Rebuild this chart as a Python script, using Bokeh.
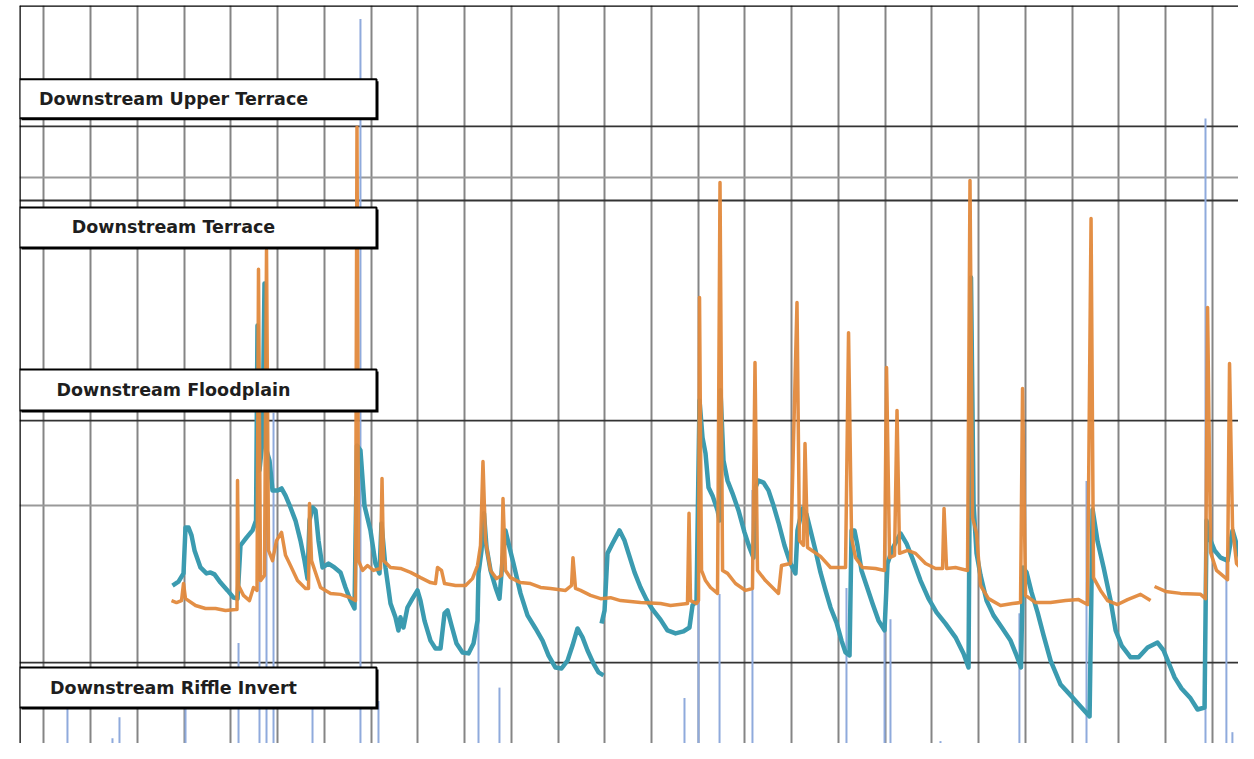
import numpy as np
from bokeh.plotting import figure
from bokeh.models import Range1d, Span, BoxAnnotation, Label, Grid, SingleIntervalTicker
from bokeh.embed import file_html
from bokeh.resources import INLINE

nan = float("nan")

# ---------------- data ----------------
# time axis: days; elevation axis: metres
orange_day = [19.11, 19.86, 20.61, 20.91, 21.21, 22.71, 24.20, 25.70, 27.20, 28.70,
              28.92, 29.00, 29.15, 29.89, 30.79, 31.39, 31.92, 32.14, 32.44, 33.04,
              33.34, 33.64, 34.24, 34.84, 35.59, 36.19, 36.93, 37.98, 39.18, 39.63,
              39.78, 40.08, 41.43, 42.93, 44.43, 45.92, 46.67, 46.89, 47.12, 47.72,
              48.47, 49.36, 50.41, 50.64, 50.86, 51.91, 53.41, 54.91, 56.41, 57.90,
              58.65, 58.95, 59.55, 60.00, 61.65, 63.15, 64.19, 64.94, 65.39, 65.76,
              66.14, 66.89, 67.79, 68.53, 68.76, 69.13, 69.88, 71.38, 72.88, 74.38,
              75.87, 78.12, 79.02, 79.24, 79.62, 80.37, 81.87, 83.37, 84.86, 86.36,
              89.36, 92.35, 93.85, 96.39, 96.62, 96.84, 97.74, 98.04, 98.19, 98.49,
              99.09, 99.84, 100.89, 101.26, 101.64, 102.39, 103.58, 105.08, 106.12, 106.50,
              106.87, 108.07, 110.02, 110.47, 111.81, 112.79, 113.16, 113.76, 113.99, 114.37,
              116.31, 117.81, 120.06, 120.51, 120.96, 121.55, 122.60, 124.55, 125.90, 126.20,
              126.65, 127.40, 127.77, 128.15, 129.35, 130.54, 132.04, 133.54, 134.59, 134.81,
              135.19, 136.53, 138.33, 138.70, 139.08, 139.68, 140.28, 141.47, 143.27, 145.07,
              146.27, 146.57, 147.02, 148.52, 150.77, 153.01, 154.96, 156.30, 156.83, 157.20,
              158.25, 159.30, 160.80, 162.30, 164.24, 165.74, nan, 166.34, 167.99, 170.24,
              173.23, 173.98, 174.28, 174.73, 175.62, 177.27, 177.57, 178.02, 178.62, 179.52,
              181.31]
orange_elev = [99.710, 99.704, 99.710, 99.762, 99.716, 99.695, 99.686, 99.686, 99.680, 99.683,
               99.683, 100.076, 99.756, 99.726, 99.710, 99.750, 99.741, 100.720, 99.771, 99.787,
               100.778, 99.863, 99.832, 99.893, 99.918, 99.848, 99.817, 99.771, 99.747, 99.747,
               100.006, 99.832, 99.750, 99.732, 99.729, 99.719, 99.710, 101.153, 99.832, 99.802,
               99.817, 99.802, 99.808, 100.082, 99.832, 99.811, 99.808, 99.796, 99.780, 99.765,
               99.762, 99.811, 99.802, 99.762, 99.756, 99.756, 99.777, 99.817, 99.878, 100.134,
               99.893, 99.802, 99.777, 99.787, 100.021, 99.802, 99.780, 99.765, 99.762, 99.750,
               99.747, 99.741, 99.756, 99.841, 99.747, 99.741, 99.726, 99.716, 99.719, 99.710,
               99.704, 99.701, 99.695, 99.701, 99.976, 99.710, 99.701, 99.710, 100.634, 99.802,
               99.771, 99.750, 99.732, 100.985, 99.802, 99.793, 99.762, 99.741, 99.747, 100.436,
               99.802, 99.771, 99.732, 99.817, 99.823, 100.619, 99.893, 99.878, 100.189, 99.872,
               99.845, 99.811, 99.811, 100.527, 99.902, 99.841, 99.811, 99.808, 99.802, 100.421,
               99.841, 99.848, 100.290, 99.854, 99.863, 99.854, 99.823, 99.808, 99.808, 99.991,
               99.808, 99.811, 99.802, 100.991, 99.963, 99.915, 99.756, 99.716, 99.695, 99.701,
               99.704, 100.357, 99.726, 99.704, 99.704, 99.710, 99.713, 99.698, 100.875, 99.780,
               99.741, 99.710, 99.698, 99.713, 99.729, 99.710, nan, 99.753, 99.738, 99.732,
               99.729, 99.716, 100.604, 99.857, 99.802, 99.774, 100.433, 99.933, 99.823, 99.802,
               99.768]

teal_day = [19.26, 20.16, 20.91, 21.21, 21.66, 22.11, 22.56, 23.45, 24.35, 24.95,
            25.55, 26.45, 27.50, 28.40, 29.00, 29.44, 30.34, 31.24, 31.77, 31.99,
            32.29, 32.74, 33.04, 33.34, 33.79, 34.24, 34.99, 35.59, 36.19, 36.93,
            37.68, 38.43, 39.03, 39.48, 39.78, 40.23, 40.68, 41.13, 41.73, 42.62,
            43.52, 44.42, 45.17, 45.92, 46.52, 46.89, 47.41, 48.01, 48.91, 49.66,
            50.26, 50.56, 51.16, 51.91, 52.65, 53.10, 53.40, 53.85, 54.45, 55.20,
            55.95, 56.40, 57.00, 57.90, 58.65, 59.40, 60.00, 60.45, 61.05, 61.80,
            62.70, 63.59, 64.34, 64.94, 65.09, 65.54, 65.91, 66.29, 66.89, 67.64,
            68.23, 68.68, 69.13, 69.73, 70.33, 71.38, 72.43, 73.63, 74.68, 75.57,
            76.62, 77.52, 78.42, 79.17, 79.92, 80.67, 81.42, 82.32, 83.07, 83.82,
            nan, 83.52, 83.97, 84.41, 85.16, 86.21, 86.96, 87.56, 88.46, 89.36,
            90.25, 91.15, 92.35, 93.40, 94.60, 95.79, 96.69, 97.14, 97.74, 98.19,
            98.64, 99.09, 99.54, 100.14, 100.89, 101.19, 101.33, 101.78, 102.38, 103.13,
            104.03, 104.93, 105.67, 106.27, 106.57, 107.02, 107.77, 108.52, 109.27, 110.02,
            110.92, 111.81, 112.56, 112.86, 113.61, 114.21, 114.81, 115.56, 116.31, 117.06,
            117.81, 118.71, 119.46, 120.06, 120.66, 120.96, 121.40, 121.85, 122.45, 123.20,
            124.10, 125.00, 125.90, 126.35, 127.10, 128.30, 129.20, 130.09, 131.29, 132.49,
            133.69, 135.04, 136.53, 137.73, 138.48, 138.85, 139.23, 139.68, 140.28, 141.18,
            142.22, 143.57, 144.77, 145.67, 146.34, 146.64, 147.17, 147.92, 148.82, 149.72,
            150.77, 152.27, 153.77, 155.26, 156.61, 157.06, 157.81, 158.71, 159.76, 160.51,
            161.41, 162.75, 163.95, 165.30, 166.79, 167.69, 168.44, 169.34, 170.38, 171.73,
            172.78, 173.83, 174.13, 174.73, 175.33, 176.23, 177.27, 178.02, 178.77, 179.67,
            180.57, 181.31]
teal_elev = [99.756, 99.768, 99.793, 99.933, 99.933, 99.909, 99.863, 99.811, 99.793, 99.796,
             99.790, 99.765, 99.741, 99.719, 99.716, 99.878, 99.902, 99.924, 99.954, 100.549,
             100.107, 100.198, 100.677, 100.168, 100.137, 100.046, 100.046, 100.052, 100.030, 99.994,
             99.954, 99.893, 99.832, 99.777, 99.954, 99.994, 99.985, 99.893, 99.811, 99.823,
             99.811, 99.796, 99.750, 99.710, 99.686, 100.183, 100.168, 100.000, 99.924, 99.823,
             99.793, 99.945, 99.811, 99.701, 99.659, 99.619, 99.659, 99.628, 99.689, 99.716,
             99.741, 99.710, 99.649, 99.588, 99.564, 99.564, 99.671, 99.680, 99.634, 99.579,
             99.552, 99.549, 99.579, 99.649, 99.793, 99.863, 99.976, 99.872, 99.802, 99.750,
             99.716, 99.832, 99.924, 99.872, 99.823, 99.732, 99.665, 99.625, 99.588, 99.543,
             99.506, 99.503, 99.527, 99.573, 99.625, 99.598, 99.558, 99.518, 99.491, 99.482,
             nan, 99.640, 99.680, 99.854, 99.884, 99.924, 99.893, 99.854, 99.796, 99.750,
             99.713, 99.683, 99.652, 99.619, 99.610, 99.616, 99.628, 99.695, 99.710, 100.320,
             100.207, 100.159, 100.055, 100.030, 99.985, 99.954, 100.351, 100.137, 100.076, 100.037,
             99.985, 99.918, 99.872, 99.841, 100.055, 100.076, 100.070, 100.046, 100.000, 99.948,
             99.878, 99.823, 99.793, 99.924, 99.991, 99.973, 99.924, 99.863, 99.796, 99.741,
             99.689, 99.643, 99.588, 99.552, 99.543, 99.924, 99.924, 99.878, 99.802, 99.756,
             99.701, 99.649, 99.619, 99.823, 99.869, 99.915, 99.884, 99.838, 99.771, 99.716,
             99.674, 99.640, 99.598, 99.549, 99.506, 100.695, 100.006, 99.854, 99.787, 99.710,
             99.665, 99.625, 99.588, 99.543, 99.506, 99.811, 99.796, 99.735, 99.674, 99.604,
             99.527, 99.454, 99.421, 99.387, 99.357, 99.988, 99.890, 99.811, 99.710, 99.619,
             99.573, 99.537, 99.537, 99.567, 99.582, 99.558, 99.521, 99.476, 99.442, 99.412,
             99.378, 99.384, 99.954, 99.893, 99.863, 99.841, 99.832, 99.924, 99.872, 99.787,
             99.710, 99.665]

rain_day = [3.53, 10.27, 11.32, 21.21, 29.15, 32.29, 33.34, 34.39, 40.23, 47.41,
            50.11, 64.19, 65.09, 68.23, 95.94, 98.04, 101.19, 106.12, 120.20, 125.90,
            126.79, 134.28, 146.10, 156.15, 173.97, 177.10, 178.00]
rain_mm = [3.8, 0.9, 2.3, 3.4, 7.3, 18.9, 22.6, 22.8, 3.8, 49.3,
           3.4, 0.3, 9.3, 4.3, 3.6, 11.2, 10.6, 17.6, 11.0, 9.0,
           8.9, 0.7, 9.3, 18.2, 42.6, 12.9, 1.3]

level_names = ["Downstream Upper Terrace", "Downstream Terrace",
               "Downstream Floodplain", "Downstream Riffle Invert"]
level_elev = [101.156, 100.930, 100.259, 99.521]
label_side = ["above", "below", "above", "below"]

# ---------------- layout ----------------
W, H = 1238, 743
LEFT, TOP = 19, 5
X0 = -3.654
Y1 = 101.5245
PX_PER_DAY = 6.677
PX_PER_M = 327.97
frame_w, frame_h = W - LEFT, H - TOP
X1 = X0 + frame_w / PX_PER_DAY
Y0 = Y1 - frame_h / PX_PER_M
sx, sy = PX_PER_DAY, PX_PER_M
PX_PER_MM = 14.86
# rain axis: zero lies just below the visible frame bottom
RAIN0 = 8 / PX_PER_MM
RAIN1 = RAIN0 + frame_h / PX_PER_MM

p = figure(width=W, height=H, output_backend="svg", toolbar_location=None,
           x_range=Range1d(X0, X1), y_range=Range1d(Y0, Y1),
           x_axis_location=None, y_axis_location=None,
           min_border_left=LEFT, min_border_right=0, min_border_top=TOP, min_border_bottom=0)
p.outline_line_color = None
p.background_fill_color = "white"
p.border_fill_color = "white"
p.extra_y_ranges = {"rain": Range1d(RAIN0, RAIN1)}
p.grid.visible = False

p.add_layout(Grid(dimension=0, ticker=SingleIntervalTicker(interval=7, num_minor_ticks=0),
                  grid_line_color="#858585", grid_line_width=2))
p.add_layout(Grid(dimension=1, ticker=SingleIntervalTicker(interval=1, num_minor_ticks=0),
                  grid_line_color="#999999", grid_line_width=2))

for lev in level_elev:
    p.add_layout(Span(location=lev, dimension="width", line_color="#333333",
                      line_width=1.8, level="underlay"))

# rainfall bars (from zero upward)
p.vbar(x=rain_day, top=rain_mm, bottom=0, width=2.0 / sx, y_range_name="rain",
       fill_color="#8FAADC", line_color=None)

p.line(np.array(teal_day, dtype=float), np.array(teal_elev, dtype=float),
       line_color="#3B9BB0", line_width=4.5, line_join="round")
p.line(np.array(orange_day, dtype=float), np.array(orange_elev, dtype=float),
       line_color="#E2893C", line_width=3.5, line_alpha=0.95, line_join="round")

# frame borders (top and left)
p.add_layout(Span(location=X0, dimension="height", line_color="black", line_width=2.5))
p.add_layout(Span(location=Y1, dimension="width", line_color="black", line_width=2.5))

# label boxes
gaps = [8, 7, 10, 5]
heights = [39, 40, 41, 40]
box_right = X0 + 357 / sx
text_x = X0 + 154 / sx
for name, lev, side, gap, hh in zip(level_names, level_elev, label_side, gaps, heights):
    if side == "above":
        bottom = lev + gap / sy
        top = bottom + hh / sy
    else:
        top = lev - gap / sy
        bottom = top - hh / sy
    p.add_layout(BoxAnnotation(left=X0 + 2 / sx, right=box_right + 2 / sx,
                               top=top - 2 / sy, bottom=bottom - 2 / sy,
                               fill_color="black", fill_alpha=1, line_alpha=0))
    p.add_layout(BoxAnnotation(left=X0, right=box_right, top=top, bottom=bottom,
                               fill_color="white", fill_alpha=1,
                               line_color="black", line_alpha=1, line_width=2))
    p.add_layout(Label(x=text_x, y=(top + bottom) / 2, text=name,
                       text_align="center", text_baseline="middle",
                       text_font="DejaVu Sans", text_font_style="bold",
                       text_font_size="17.5px", text_color="#1e1e1e"))

open("out.html", "w").write(file_html(p, INLINE))
